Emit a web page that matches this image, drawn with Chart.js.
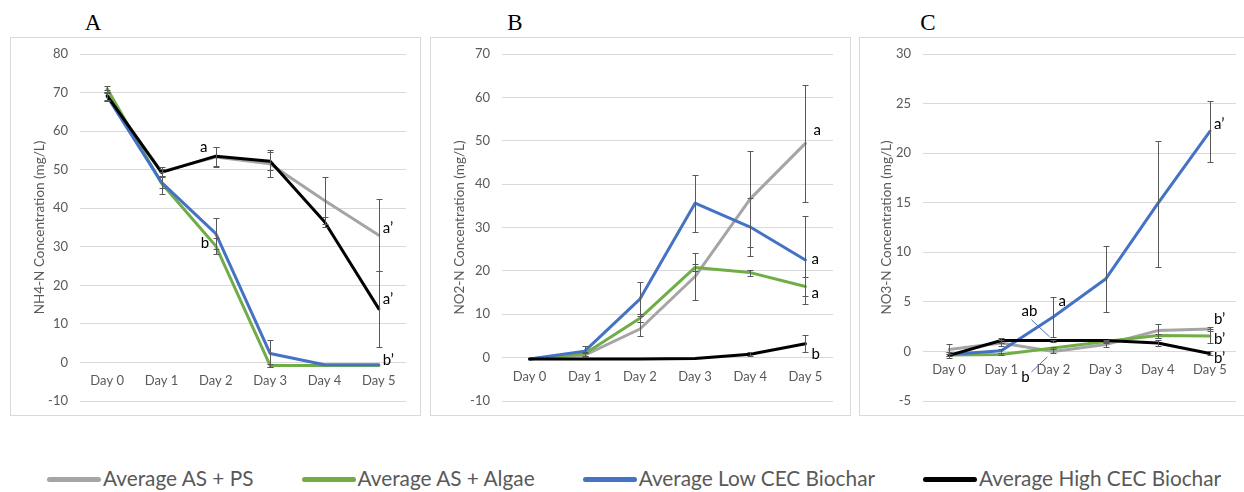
<!DOCTYPE html>
<html>
<head>
<meta charset="utf-8">
<script src="https://cdn.jsdelivr.net/npm/chart.js@4.4.1/dist/chart.umd.min.js"></script>
<style>
  html, body { margin: 0; padding: 0; background: #fff; }
  body { width: 1244px; height: 492px; position: relative; overflow: hidden; font-family: Lato, "Open Sans", sans-serif; }
  .panel { position: absolute; box-sizing: border-box; border: 1px solid #d9d9d9; background: #fff; }
  .panel canvas { position: absolute; left: 0; top: 0; }
  .letter { position: absolute; font-family: "Liberation Serif", "Times New Roman", serif; font-size: 23px; line-height: 23px; color: #000; transform: translateX(-50%); }
  .legend { position: absolute; left: 47px; top: 466px; height: 24px; display: flex; align-items: center; gap: 48px; white-space: nowrap; }
  .item { display: flex; align-items: center; gap: 2px; }
  .swatch { width: 54px; height: 5px; border-radius: 3px; margin-top: 3px; }
  .item span { font-family: Lato, sans-serif; font-size: 20.8px; color: #595959; line-height: 24px; }
</style>
</head>
<body>
<div class="letter" style="left:93px; top:11px;">A</div>
<div class="letter" style="left:515px; top:11px;">B</div>
<div class="letter" style="left:928px; top:11px;">C</div>

<div class="panel" style="left:10px; top:37px; width:411px; height:379px;"><canvas id="chartA" width="409" height="377"></canvas></div>
<div class="panel" style="left:430px; top:37px; width:421px; height:379px;"><canvas id="chartB" width="419" height="377"></canvas></div>
<div class="panel" style="left:859px; top:37px; width:400px; height:379px;"><canvas id="chartC" width="388" height="377"></canvas></div>

<div class="legend" id="legend"></div>

<script>
// Sampling days
const days = ['Day 0', 'Day 1', 'Day 2', 'Day 3', 'Day 4', 'Day 5'];

// Treatment names and line colours
const seriesNames = ['Average AS + PS', 'Average AS + Algae', 'Average Low CEC Biochar', 'Average High CEC Biochar'];
const seriesColors = ['#a5a5a5', '#70ad47', '#4472c4', '#000000'];

// NH4-N concentration (mg/L)
const nh4PS     = [69.0, 49.5, 53.3, 51.5, 42.0, 33.0];
const nh4Algae  = [71.0, 46.5, 30.2, -0.8, -0.8, -0.8];
const nh4Low    = [69.0, 46.7, 33.4, 2.3, -0.6, -0.6];
const nh4High   = [69.2, 49.3, 53.5, 52.2, 36.5, 13.9];
const nh4PSErr    = [1.2, 1.2, 2.5, 3.5, 6.2, 9.3];
const nh4AlgaeErr = [0.8, 2.8, 2.0, 0.5, 0, 0];
const nh4LowErr   = [1.0, 1.5, 4.0, 3.6, 0, 0];
const nh4HighErr  = [1.5, 1.0, 2.5, 2.3, 1.3, 9.9];

// NO2-N concentration (mg/L)
const no2PS     = [-0.3, 0.6, 6.6, 18.7, 36.6, 49.4];
const no2Algae  = [-0.3, 0.9, 9.1, 20.8, 19.6, 16.4];
const no2Low    = [-0.3, 1.5, 13.5, 35.6, 30.1, 22.5];
const no2High   = [-0.3, -0.3, -0.3, -0.2, 0.8, 3.2];
const no2PSErr    = [0, 0.4, 1.6, 5.5, 11.0, 13.5];
const no2AlgaeErr = [0, 0.5, 1.0, 0.9, 0.7, 2.1];
const no2LowErr   = [0, 1.2, 3.9, 6.6, 6.6, 10.2];
const no2HighErr  = [0, 0, 0, 0, 0.4, 2.0];

// NO3-N concentration (mg/L)
const no3PS     = [0.2, 0.85, 0.0, 0.7, 2.1, 2.25];
const no3Algae  = [-0.35, -0.3, 0.35, 1.0, 1.6, 1.55];
const no3Low    = [-0.3, 0.07, 3.5, 7.3, 14.9, 22.2];
const no3High   = [-0.4, 1.1, 1.1, 1.1, 0.85, -0.2];
const no3PSErr    = [0.5, 0.3, 0.2, 0.3, 0.7, 0.2];
const no3AlgaeErr = [0.1, 0.1, 0.1, 0.1, 0.2, 0.7];
const no3LowErr   = [0.2, 0.2, 2.0, 3.3, 6.35, 3.1];
const no3HighErr  = [0.3, 0.3, 0.1, 0.1, 0.3, 0.2];

// Axis ranges and tick steps
const nh4Axis = { min: -10, max: 80, step: 10 };
const no2Axis = { min: -10, max: 70, step: 10 };
const no3Axis = { min: -5, max: 30, step: 5 };

// Significance letters: series index, day index, text
const nh4Letters = [
  { s: 3, i: 2, text: 'a',  dx: -12, dy: -9, align: 'center' },
  { s: 1, i: 2, text: 'b',  dx: -11, dy: -3, align: 'center' },
  { s: 0, i: 5, text: 'a’', dx: 4, dy: -7, align: 'left' },
  { s: 3, i: 5, text: 'a’', dx: 4, dy: -10, align: 'left' },
  { s: 2, i: 5, text: 'b’', dx: 4, dy: -5, align: 'left' }
];
const no2Letters = [
  { s: 0, i: 5, text: 'a', dx: 8, dy: -13, align: 'left' },
  { s: 2, i: 5, text: 'a', dx: 6, dy: -1, align: 'left' },
  { s: 1, i: 5, text: 'a', dx: 6, dy: 7, align: 'left' },
  { s: 3, i: 5, text: 'b', dx: 6, dy: 10, align: 'left' }
];
const no3Letters = [
  { s: 2, i: 5, text: 'a’', dx: 4, dy: -7, align: 'left' },
  { s: 2, i: 2, text: 'a',  dx: 5, dy: -16, align: 'left' },
  { s: 2, i: 2, text: 'ab', dx: -24, dy: -6, align: 'center', lead: [-22, 3, -4, 20] },
  { s: 1, i: 2, text: 'b',  dx: -28, dy: 29, align: 'center', lead: [-22, 24, -6, 9] },
  { s: 0, i: 5, text: 'b’', dx: 4, dy: -10, align: 'left' },
  { s: 1, i: 5, text: 'b’', dx: 4, dy: 3, align: 'left' },
  { s: 3, i: 5, text: 'b’', dx: 4, dy: 5, align: 'left' }
];

const FONT = 'Lato';
const GREY_TEXT = '#595959';

// Draws +/- error bars with caps for every dataset carrying an errorBars list
const errorBarPlugin = {
  id: 'errorBars',
  afterDatasetsDraw(chart) {
    const ctx = chart.ctx;
    const x = chart.scales.x, y = chart.scales.y;
    ctx.save();
    ctx.strokeStyle = '#595959';
    ctx.lineWidth = 1;
    chart.data.datasets.forEach((ds) => {
      if (!ds.errorBars) return;
      ds.data.forEach((v, i) => {
        const e = ds.errorBars[i];
        if (!e) return;
        const px = Math.round(x.getPixelForValue(i)) + 0.5;
        const top = Math.round(y.getPixelForValue(v + e)) + 0.5;
        const bot = Math.round(y.getPixelForValue(v - e)) + 0.5;
        ctx.beginPath();
        ctx.moveTo(px, top); ctx.lineTo(px, bot);
        ctx.moveTo(px - 3, top); ctx.lineTo(px + 3, top);
        ctx.moveTo(px - 3, bot); ctx.lineTo(px + 3, bot);
        ctx.stroke();
      });
    });
    ctx.restore();
  }
};

// Writes the significance letters next to their points
const letterPlugin = {
  id: 'letters',
  afterDatasetsDraw(chart, args, opts) {
    const list = opts.items || [];
    const ctx = chart.ctx;
    const x = chart.scales.x, y = chart.scales.y;
    ctx.save();
    ctx.font = '15px ' + FONT;
    ctx.fillStyle = '#000';
    ctx.textBaseline = 'middle';
    list.forEach((l) => {
      const v = chart.data.datasets[l.s].data[l.i];
      const px = x.getPixelForValue(l.i);
      const py = y.getPixelForValue(v);
      ctx.textAlign = l.align;
      ctx.fillText(l.text, px + l.dx, py + l.dy);
      if (l.lead) {
        ctx.strokeStyle = '#4472c4';
        ctx.lineWidth = 1;
        ctx.beginPath();
        ctx.moveTo(px + l.lead[0], py + l.lead[1]);
        ctx.lineTo(px + l.lead[2], py + l.lead[3]);
        ctx.stroke();
      }
    });
    ctx.restore();
  }
};

function makeChart(id, values, errors, axis, title, letters, pad, yWidth) {
  const datasets = values.map((d, k) => ({
    label: seriesNames[k],
    data: d,
    errorBars: errors[k],
    borderColor: seriesColors[k],
    backgroundColor: seriesColors[k],
    borderWidth: 3,
    pointRadius: 0,
    tension: 0,
    fill: false,
    borderJoinStyle: 'round',
    borderCapStyle: 'round',
    order: values.length - k
  }));
  return new Chart(document.getElementById(id), {
    type: 'line',
    data: { labels: days, datasets },
    plugins: [errorBarPlugin, letterPlugin],
    options: {
      responsive: false,
      animation: false,
      events: [],
      layout: { padding: pad },
      plugins: {
        legend: { display: false },
        tooltip: { enabled: false },
        letters: { items: letters }
      },
      scales: {
        x: {
          type: 'category',
          offset: true,
          position: { y: 0 },
          grid: { display: false, drawTicks: false },
          border: { display: false },
          ticks: { color: GREY_TEXT, font: { family: FONT, size: 13 }, padding: 11, maxRotation: 0 }
        },
        y: {
          min: axis.min,
          max: axis.max,
          afterFit(scale) { scale.width = yWidth; },
          ticks: { stepSize: axis.step, color: GREY_TEXT, font: { family: FONT, size: 13 }, padding: 0 },
          grid: { color: '#d9d9d9', lineWidth: 1, drawTicks: true, tickLength: 12, tickColor: 'rgba(0,0,0,0)' },
          border: { display: false },
          title: { display: true, text: title, color: GREY_TEXT, font: { family: FONT, size: 13.5 }, padding: 0 }
        }
      }
    }
  });
}

makeChart('chartA', [nh4PS, nh4Algae, nh4Low, nh4High], [nh4PSErr, nh4AlgaeErr, nh4LowErr, nh4HighErr],
  nh4Axis, 'NH4-N Concentration (mg/L)', nh4Letters, { left: 21, right: 14, top: 16, bottom: 14 }, 48);
makeChart('chartB', [no2PS, no2Algae, no2Low, no2High], [no2PSErr, no2AlgaeErr, no2LowErr, no2HighErr],
  no2Axis, 'NO2-N Concentration (mg/L)', no2Letters, { left: 21, right: 17, top: 16, bottom: 14 }, 50);
makeChart('chartC', [no3PS, no3Algae, no3Low, no3High], [no3PSErr, no3AlgaeErr, no3LowErr, no3HighErr],
  no3Axis, 'NO3-N Concentration (mg/L)', no3Letters, { left: 19, right: 12, top: 16, bottom: 14 }, 44);

// Shared legend below the three panels
const legend = document.getElementById('legend');
seriesNames.forEach((name, k) => {
  const item = document.createElement('div');
  item.className = 'item';
  const sw = document.createElement('div');
  sw.className = 'swatch';
  sw.style.background = seriesColors[k];
  const tx = document.createElement('span');
  tx.textContent = name;
  item.appendChild(sw);
  item.appendChild(tx);
  legend.appendChild(item);
});
</script>
</body>
</html>
